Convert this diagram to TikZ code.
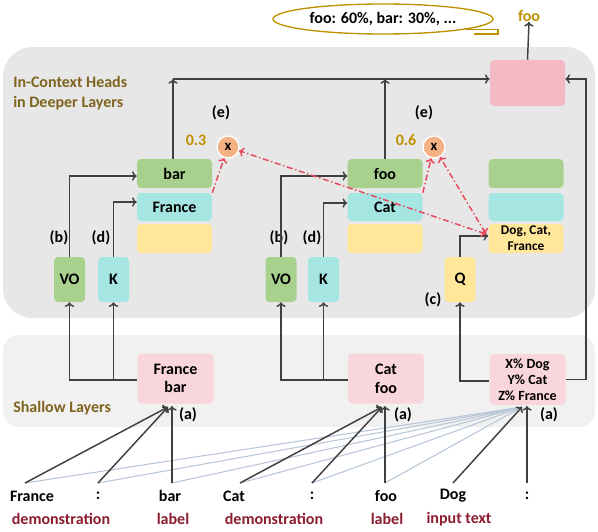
\documentclass[tikz,border=0pt]{standalone}
\usepackage{fontspec}
\setmainfont{Carlito}
\usetikzlibrary{arrows.meta,shapes.geometric}

\definecolor{deepbg}{RGB}{231,231,231}
\definecolor{shbg}{RGB}{241,241,241}
\definecolor{pinkA}{RGB}{244,185,194}
\definecolor{pinkB}{RGB}{249,214,220}
\definecolor{grn}{RGB}{169,209,142}
\definecolor{cyn}{RGB}{166,230,226}
\definecolor{ylw}{RGB}{255,230,153}
\definecolor{org}{RGB}{244,177,131}
\definecolor{gold}{RGB}{191,144,0}
\definecolor{olive}{RGB}{127,100,30}
\definecolor{dred}{RGB}{140,28,48}
\definecolor{rdash}{RGB}{232,72,92}
\definecolor{lline}{RGB}{184,198,216}
\definecolor{dline}{RGB}{64,64,64}

\def\PX{0.75pt}

\begin{document}
\begin{tikzpicture}[x=0.75pt,y=-0.75pt,
  font=\fontsize{12}{14}\selectfont\bfseries,
  box/.style={inner sep=0pt, rounded corners=3pt, draw=none, align=center},
  colbox/.style={box, minimum width=75*\PX, minimum height=29*\PX},
  smbox/.style={box, minimum width=31*\PX, minimum height=45*\PX},
  botbox/.style={box, fill=pinkB, minimum width=76*\PX, minimum height=50*\PX},
  arr/.style={draw=dline, line width=1.1pt, -{To[length=3.5pt,width=7pt]}},
  redarr/.style={draw=rdash, line width=1.1pt, dash pattern=on 4.5pt off 2pt on 1pt off 2pt, -{To[length=3.5pt,width=7pt]}},
  redboth/.style={redarr, {To[length=3.5pt,width=7pt]}-{To[length=3.5pt,width=7pt]}},
  lightln/.style={draw=lline, line width=0.8pt},
  darkln/.style={draw=dline, line width=1.1pt, -{To[length=3.5pt,width=7pt]}},
  lbl/.style={inner sep=0pt, text=black},
  tok/.style={inner sep=0pt, text=black},
  role/.style={inner sep=0pt, text=dred},
  num/.style={inner sep=0pt, text=gold},
  mult/.style={circle, fill=org, draw=white, line width=1pt, minimum size=22*\PX, inner sep=0pt, font=\fontsize{11}{12}\selectfont\bfseries}
]
\useasboundingbox (0,0) rectangle (598,531);

% backgrounds
\fill[deepbg, rounded corners=22pt] (3,47) rectangle (595,318);
\fill[shbg, rounded corners=12pt] (3,335) rectangle (595,427);

% callout
\node[draw=gold, line width=1pt, ellipse, minimum width=220*\PX, minimum height=30*\PX, inner sep=0pt] (ell) at (383,19) {foo: 60\%, bar: 30\%, ...};
\draw[gold, line width=1pt] (466,29.5) -- (498,29.5) -- (498,34) -- (474,34);

% output
\node[num, text=gold] (outfoo) at (529,16) {foo};
\node[box, fill=pinkA, minimum width=75*\PX, minimum height=46*\PX] (top) at (527.5,83) {};

% section labels
\node[inner sep=0pt, text=olive, align=left, anchor=west, font=\fontsize{12}{15}\selectfont\bfseries] (deeplab) at (13,93) {In-Context Heads\\in Deeper Layers};
\node[inner sep=0pt, text=olive, anchor=west] (shlab) at (13,408) {Shallow Layers};

% columns
\node[colbox, fill=grn] (bar) at (174.5,173.5) {bar};
\node[colbox, fill=cyn, minimum height=28*\PX] (fr) at (174.5,207) {France};
\node[colbox, fill=ylw] (y1) at (174.5,238.5) {};

\node[colbox, fill=grn] (foo) at (385,173.5) {foo};
\node[colbox, fill=cyn, minimum height=28*\PX] (cat) at (385,207) {Cat};
\node[colbox, fill=ylw] (y2) at (385,238.5) {};

\node[colbox, fill=grn] (g3) at (526,173.5) {};
\node[colbox, fill=cyn, minimum height=28*\PX] (c3) at (526,207) {};
\node[colbox, fill=ylw, font=\fontsize{10}{12}\selectfont\bfseries] (dcf) at (526,238.5) {Dog, Cat,\\France};

% small boxes
\node[smbox, fill=grn] (vo1) at (69.5,279.5) {VO};
\node[smbox, fill=cyn] (k1) at (113.5,279.5) {K};
\node[smbox, fill=grn] (vo2) at (281,279.5) {VO};
\node[smbox, fill=cyn] (k2) at (323.5,279.5) {K};
\node[smbox, fill=ylw] (q) at (460,279.5) {Q};

% bottom boxes
\node[botbox] (b1) at (175.5,378.5) {France\\bar};
\node[botbox] (b2) at (386,378.5) {Cat\\foo};
\node[botbox, minimum height=51*\PX, font=\fontsize{10.5}{12}\selectfont\bfseries] (b3) at (527.5,379.5) {X\% Dog\\Y\% Cat\\Z\% France};

% multipliers
\node[mult] (m1) at (228,147) {x};
\node[mult] (m2) at (434,147) {x};
\node[num] (n1) at (196,140) {0.3};
\node[num] (n2) at (406,140) {0.6};

% labels
\node[lbl] (e1) at (221,113) {(e)};
\node[lbl] (e2) at (424,113) {(e)};
\node[lbl] (lb1) at (59,238) {(b)};
\node[lbl] (ld1) at (101,238) {(d)};
\node[lbl] (lb2) at (279,238) {(b)};
\node[lbl] (ld2) at (312,238) {(d)};
\node[lbl] (lc) at (433,300) {(c)};
\node[lbl] (la1) at (188,415) {(a)};
\node[lbl] (la2) at (403,415) {(a)};
\node[lbl] (la3) at (549,415) {(a)};

% upper connectors
\coordinate (hl) at (173,79);
\coordinate (rr) at (586,79);
\draw[arr] (bar.north -| hl) -- (hl);
\draw[arr] (hl) -- (top.west |- hl);
\draw[arr] (foo.north) -- (foo.north |- hl);
\draw[arr] (b3.east) -| (rr) -- (top.east |- rr);
\draw[arr] (top.north) -- (outfoo.south);

\draw[arr] (vo1.north) |- ([yshift=-1.9pt]bar.west);
\draw[arr] (k1.north) |- ([yshift=3.7pt]fr.west);
\draw[arr] (vo2.north) |- ([yshift=-1.9pt]foo.west);
\draw[arr] (k2.north) |- ([yshift=3pt]cat.west);
\draw[arr] (q.north) |- ([yshift=1.9pt]dcf.west);

% lower connectors
\draw[arr] ([yshift=-1.1pt]b1.west) -| (vo1.south);
\draw[arr] ([yshift=-1.1pt]b1.west -| k1.south) -- (k1.south);
\draw[arr] ([yshift=-1.1pt]b2.west) -| (vo2.south);
\draw[arr] ([yshift=-1.1pt]b2.west -| k2.south) -- (k2.south);
\draw[arr] ([yshift=-1.1pt]b3.west) -| (q.south);

% attention (red)
\coordinate (dq) at (486,234);
\draw[redarr] (fr.north east) -- (m1);
\draw[redarr] (cat.north east) -- (m2);
\draw[redboth] (dq) -- (m1);
\draw[redboth] (dq) -- (m2);

% tokens
\node[tok] (tk1) at (32,496) {France};
\node[tok] (tk2) at (98,496) {:};
\node[tok] (tk3) at (170,496) {bar};
\node[tok] (tk4) at (234,496) {Cat};
\node[tok] (tk5) at (312,496) {:};
\node[tok] (tk6) at (386,496) {foo};
\node[tok] (tk7) at (453,496) {Dog};
\node[tok] (tk8) at (527,496) {:};

\node[role] (r1) at (61,519) {demonstration};
\node[role] (r2) at (173,519) {label};
\node[role] (r3) at (274,519) {demonstration};
\node[role] (r4) at (387,519) {label};
\node[role] (r5) at (459,519) {input text};

\coordinate (s1) at (25,483);
\coordinate (s2) at (98,483);
\coordinate (s3) at (172,483);
\coordinate (s4) at (240,483);
\coordinate (s5) at (312,483);
\coordinate (s6) at (385,483);
\coordinate (s7) at (453,483);
\coordinate (s8) at (527,483);
\coordinate (a1) at (168,407);
\coordinate (a1v) at (172,406);
\coordinate (a2) at (382,407);
\coordinate (a2v) at (385,406);
\coordinate (a3) at (522,407);
\coordinate (a3v) at (527,406);

\foreach \s in {s1,s2,s3,s4,s5,s6} \draw[lightln] (\s) -- (a3);

\draw[darkln] (s1) -- (a1);
\draw[darkln] (s2) -- (a1);
\draw[darkln] (s3) -- (a1v);
\draw[darkln] (s4) -- (a2);
\draw[darkln] (s5) -- (a2);
\draw[darkln] (s6) -- (a2v);
\draw[darkln] (s7) -- (a3);
\draw[darkln] (s8) -- (a3v);
\end{tikzpicture}
\end{document}
